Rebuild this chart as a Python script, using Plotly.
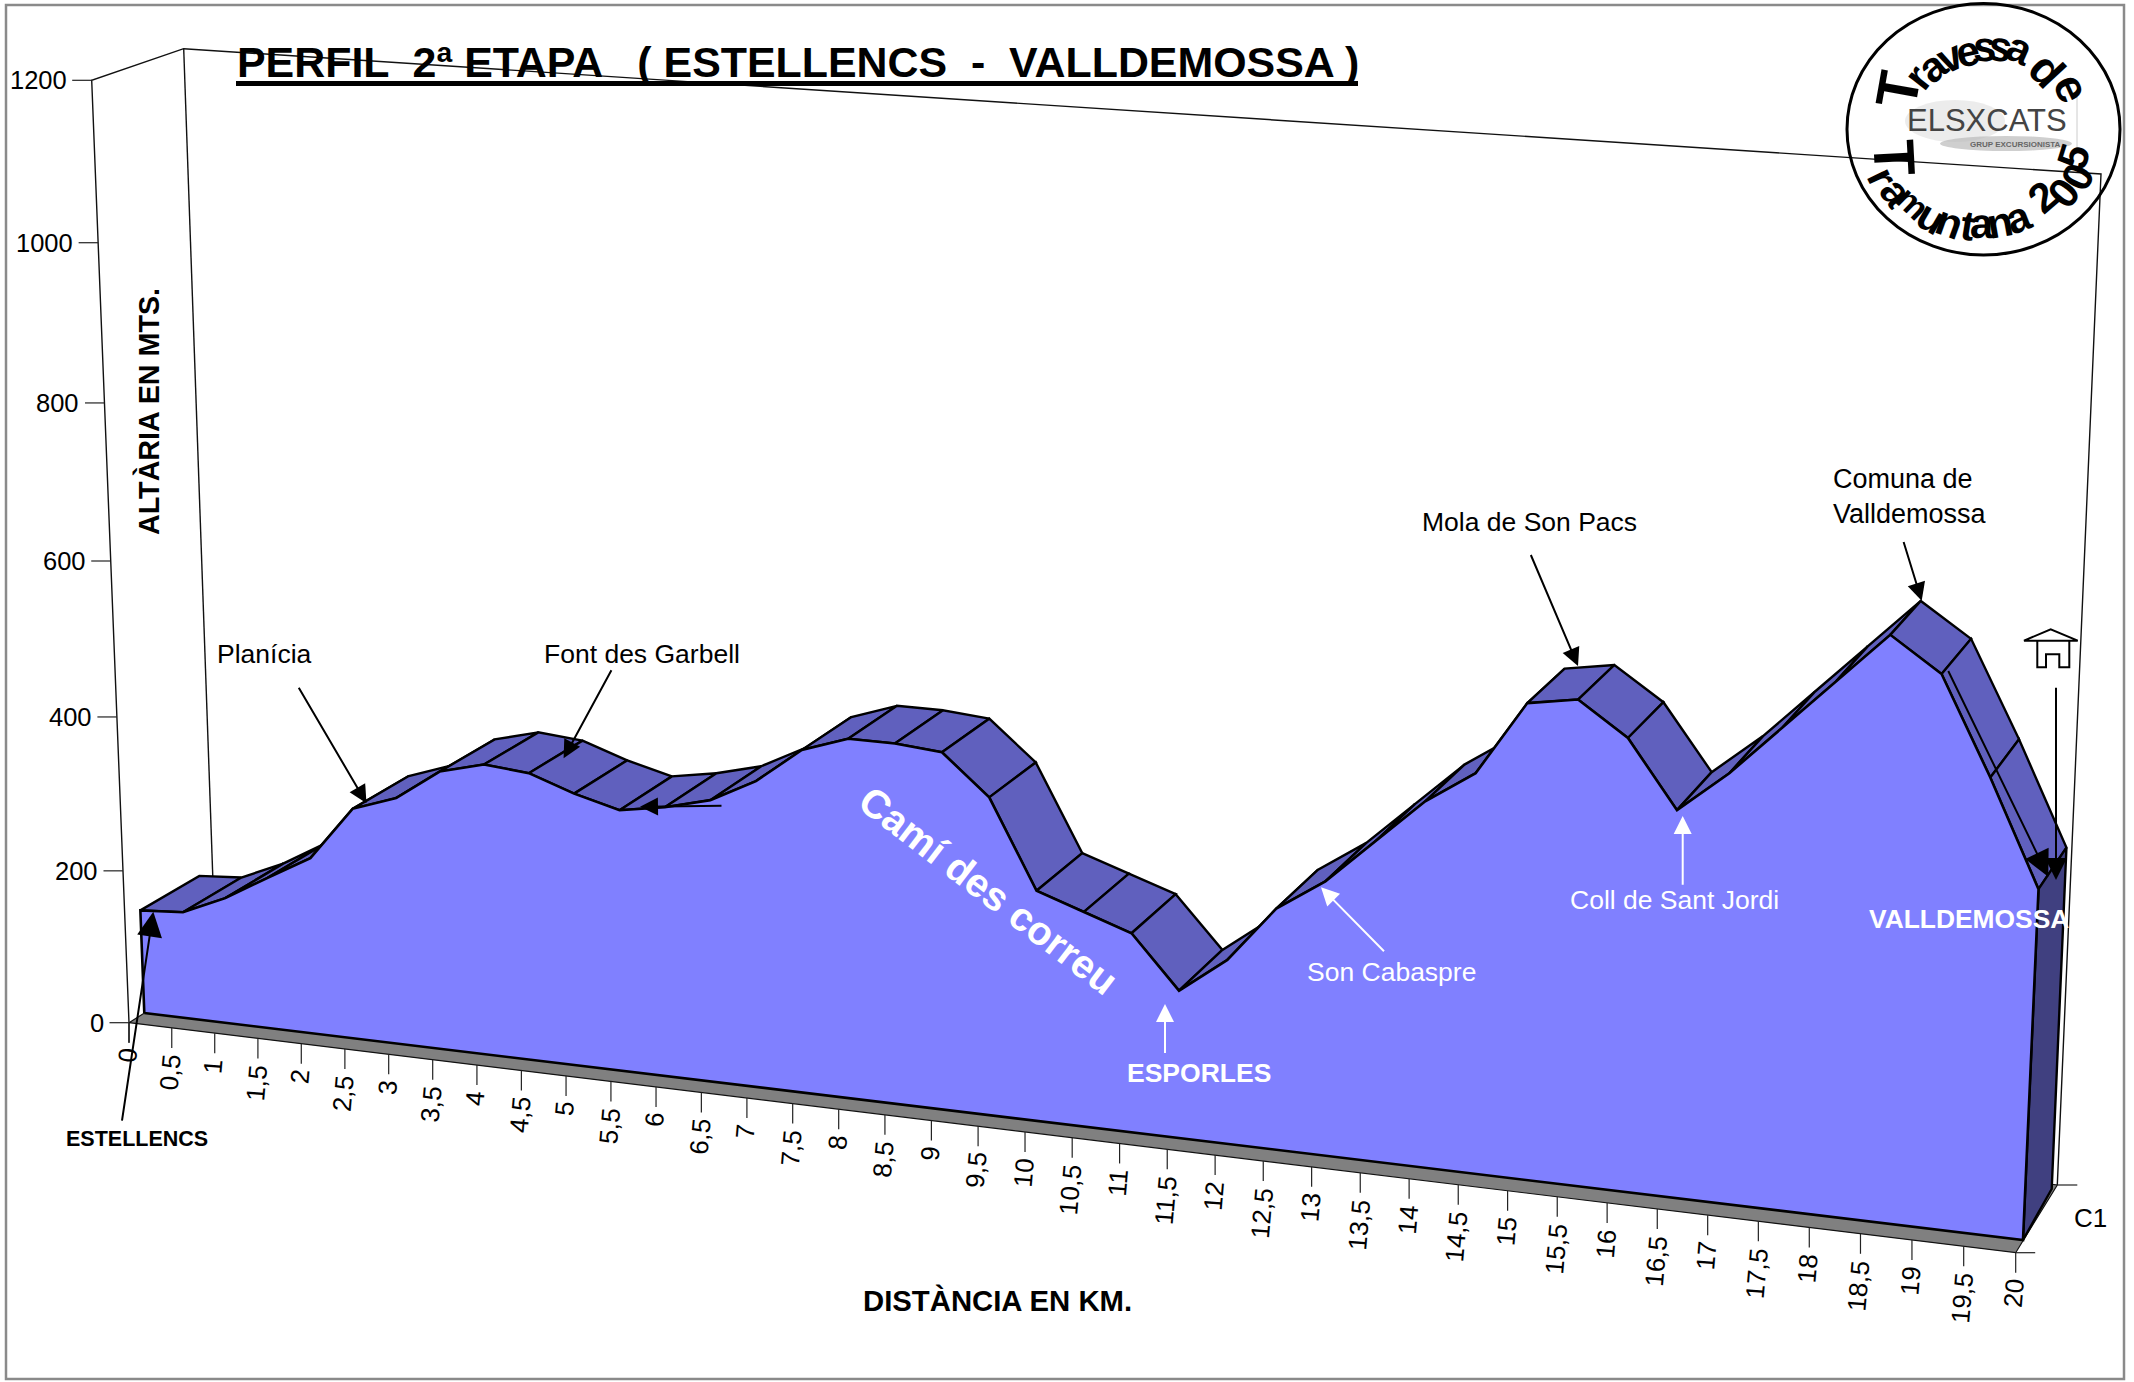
import numpy as np
import plotly.graph_objects as go

# ---------- data ----------
DIST_KM = [0, 0.5, 1, 1.5, 2, 2.5, 3, 3.5, 4, 4.5, 5, 5.5, 6, 6.5, 7, 7.5, 8, 8.5, 9, 9.5,
           10, 10.5, 11, 11.5, 12, 12.5, 13, 13.5, 14, 14.5, 15, 15.5, 16, 16.5, 17, 17.5,
           18, 18.5, 19, 19.5, 20]
ALTITUDE_M = [136, 140, 165, 198, 230, 300, 320, 360, 375, 370, 350, 335, 345, 360, 390, 435,
              455, 455, 450, 400, 290, 270, 250, 185, 230, 300, 340, 395, 450, 490, 580, 590,
              550, 470, 520, 580, 640, 700, 660, 545, 420]
DIST_LABELS = ["0", "0,5", "1", "1,5", "2", "2,5", "3", "3,5", "4", "4,5", "5", "5,5", "6", "6,5",
               "7", "7,5", "8", "8,5", "9", "9,5", "10", "10,5", "11", "11,5", "12", "12,5", "13",
               "13,5", "14", "14,5", "15", "15,5", "16", "16,5", "17", "17,5", "18", "18,5", "19",
               "19,5", "20"]
ALT_TICKS = [0, 200, 400, 600, 800, 1000, 1200]

# ---------- colours / fonts ----------
FRONT = "#8080FF"
TOP = "#6060BE"
END = "#404080"
GREY = "#808080"
FONT = "Liberation Sans"

# ---------- perspective of the 3-D box (page pixels of its corners) ----------
WALL_FRONT = [(129, 1022.7), (2015.7, 1252.7), (2060.5, 216.7), (91.7, 80.3)]
WALL_BACK = [(216, 968), (2057.3, 1185), (2101, 174), (183.7, 48.7)]
SERIES_FRONT = [(144.3, 1013), (2023, 1240), (2068.6, 208), (108.3, 74.6)]
SERIES_BACK = [(203, 976), (2051.7, 1189), (2095, 186), (169.3, 62)]
X_MAX, Y_MAX = 20.0, 1200.0


def fit_plane(corners):
    src = [(0, 0), (X_MAX, 0), (X_MAX, Y_MAX), (0, Y_MAX)]
    A, b = [], []
    for (s, t), (u, v) in zip(src, corners):
        A.append([s, t, 1, 0, 0, 0, -u * s, -u * t])
        A.append([0, 0, 0, s, t, 1, -v * s, -v * t])
        b += [u, v]
    h = np.linalg.solve(np.array(A, float), np.array(b, float))
    return np.append(h, 1).reshape(3, 3)


def proj(H, x, y):
    p = H @ np.array([x, y, 1.0])
    return float(p[0] / p[2]), float(p[1] / p[2])


H_WF, H_WB = fit_plane(WALL_FRONT), fit_plane(WALL_BACK)
H_SF, H_SB = fit_plane(SERIES_FRONT), fit_plane(SERIES_BACK)

fig = go.Figure()


def poly(points, fill=None, color="black", width=1.0):
    xs = [p[0] for p in points]
    ys = [p[1] for p in points]
    if fill:
        xs.append(xs[0])
        ys.append(ys[0])
    fig.add_trace(go.Scatter(x=xs, y=ys, mode="lines", hoverinfo="skip", showlegend=False,
                             fill="toself" if fill else None, fillcolor=fill,
                             line=dict(color=color, width=width)))


# walls
fl, fr, bl, br = proj(H_WF, 0, 0), proj(H_WF, 20, 0), proj(H_WB, 0, 0), proj(H_WB, 20, 0)
ftl, btl, btr = proj(H_WF, 0, 1200), proj(H_WB, 0, 1200), proj(H_WB, 20, 1200)
poly([(fl[0], fl[1] + 20), fl, ftl, btl, btr, br], color="#111111", width=1.4)
poly([btl, bl], color="#111111", width=1.4)
poly([fl, fr, br, bl], fill=GREY, color="#111111", width=1.2)

# axis ticks
for t in ALT_TICKS:
    px, py = proj(H_WF, 0, t)
    poly([(px - 19.5, py), (px, py)], color="#222222", width=1.2)
for d in DIST_KM:
    px, py = proj(H_WF, d, 0)
    poly([(px, py), (px, py + 20)], color="#222222", width=1.2)
poly([fr, (fr[0] + 19.5, fr[1])], color="#222222", width=1.2)
poly([br, (br[0] + 20, br[1])], color="#222222", width=1.2)

# upper surface of the profile, one strip per segment
front_pts = [proj(H_SF, d, a) for d, a in zip(DIST_KM, ALTITUDE_M)]
back_pts = [proj(H_SB, d, a) for d, a in zip(DIST_KM, ALTITUDE_M)]
for i in range(len(DIST_KM) - 1):
    poly([front_pts[i], front_pts[i + 1], back_pts[i + 1], back_pts[i]], fill=TOP, width=2.4)

# end face and front face
sf0, sf1 = proj(H_SF, 0, 0), proj(H_SF, 20, 0)
sb1 = proj(H_SB, 20, 0)
poly([front_pts[-1], sf1, sb1, back_pts[-1]], fill=END, width=2.4)
poly([sf0] + front_pts + [sf1], fill=FRONT, width=2.6)

ann = []


def text(s, x, y, size=26.5, color="black", bold=False, angle=0, xa="center", ya="middle", family=FONT, align="center"):
    ann.append(dict(text=f"<b>{s}</b>" if bold else s, x=x, y=y, xref="x", yref="y", showarrow=False,
                    font=dict(family=family, size=size, color=color), textangle=angle,
                    xanchor=xa, yanchor=ya, align=align, borderpad=0, borderwidth=0))


def arrow(x0, y0, x1, y1, color="black", width=2.0, size=1.8):
    ann.append(dict(text=" ", x=x1, y=y1, ax=x0, ay=y0, xref="x", yref="y", axref="x", ayref="y",
                    showarrow=True, arrowhead=2, arrowsize=size, arrowwidth=width, arrowcolor=color,
                    standoff=0, startstandoff=0, font=dict(size=1)))


# tick labels
for t in ALT_TICKS:
    px, py = proj(H_WF, 0, t)
    text(str(t), px - 25, py, size=25.5, xa="right")
for d, lab in zip(DIST_KM, DIST_LABELS):
    px, py = proj(H_WF, d, 0)
    text(lab, px - 1.5, py + 25, size=26, angle=-85, ya="top")

# titles
text("PERFIL  2ª ETAPA   ( ESTELLENCS  -  VALLDEMOSSA )", 237, 62, size=42.9, bold=True, xa="left")
text("ALTÀRIA EN MTS.", 148, 412, size=28.7, bold=True, angle=-90)
text("DISTÀNCIA EN KM.", 997, 1300, size=29.3, bold=True)
text("C1", 2090, 1218, size=26)

# callouts
text("Planícia", 264.5, 654)
text("Font des Garbell", 642, 654)
text("Mola de Son Pacs", 1529.5, 522)
text("Comuna de<br>Valldemossa", 1833, 496, size=27, xa="left", align="left")
text("Son Cabaspre", 1391, 972, color="white")
text("Coll de Sant Jordi", 1674, 900, color="white")
text("ESPORLES", 1199, 1073, size=26.5, bold=True, color="white")
text("VALLDEMOSSA", 1969, 919, size=26.4, bold=True, color="white")
text("ESTELLENCS", 136.5, 1139, size=21.5, bold=True)
text("Camí des correu", 988, 890, size=40, bold=True, color="white", angle=37.5)

arrow(121.7, 1122.7, 153.3, 911.7, size=2.5)
arrow(297.6, 685.7, 366.5, 803.3)
arrow(612.5, 668.3, 563.6, 758.3)
arrow(723, 805.7, 640, 806.7)
arrow(1530, 553, 1578, 666)
arrow(1903, 540, 1921.7, 600.7)
arrow(2056, 685.7, 2056, 880, size=2.2)
arrow(1947.3, 669, 2048.3, 876.7, size=2.6)
arrow(1682.7, 886.7, 1682.7, 816, color="white")
arrow(1385.5, 952.7, 1321, 887.3, color="white")
arrow(1165, 1055, 1165, 1004, color="white")

# stamp lettering: (char, page x, page y, size)
CX, CY = 1983.5, 129
TOP_LETTERS = [("r", 1917, 77, 42), ("a", 1932, 66, 42), ("v", 1950, 56, 42),
               ("e", 1967, 51, 42), ("s", 1984, 46, 42), ("s", 2000, 46, 42), ("a", 2020, 48, 42),
               ("d", 2047, 70, 46), ("e", 2072, 88, 46)]
BOTTOM_LETTERS = [("r", 1883, 177, 42), ("a", 1897, 192, 42), ("m", 1913, 203, 34),
                  ("u", 1932, 217, 42), ("n", 1950, 222, 42), ("t", 1968, 225, 42), ("a", 1982, 223, 42),
                  ("n", 2000, 222, 42), ("a", 2018, 217, 42), ("2", 2042, 197, 42), ("0", 2063, 193, 42),
                  ("0", 2077, 177, 42), ("5", 2073, 157, 42)]
text("T", 1897, 90, size=58, bold=True, angle=-80)
text("T", 1895, 157, size=58, bold=True, angle=87)
for ch, x, y, s in TOP_LETTERS:
    text(ch, x, y, size=s, bold=True, angle=float(np.degrees(np.arctan2(x - CX, CY - y))))
for ch, x, y, s in BOTTOM_LETTERS:
    text(ch, x, y, size=s, bold=True, angle=float(np.degrees(np.arctan2(CX - x, y - CY))))
text("ELSXCATS", 1987, 120, size=31, color="#444444")
text("GRUP EXCURSIONISTA", 2015, 144, size=8, bold=True, color="#666666")

shapes = [
    dict(type="rect", x0=6, y0=5, x1=2124, y1=1379, line=dict(color="#8a8a8a", width=2.5), layer="above"),
    dict(type="line", x0=236, x1=1358, y0=83.5, y1=83.5, line=dict(color="black", width=5), layer="above"),
    dict(type="circle", x0=1847, x1=2120, y0=3.5, y1=255, line=dict(color="black", width=3), layer="above"),
    dict(type="circle", x0=1905, x1=2005, y0=100, y1=142, fillcolor="#c8c8c8", opacity=0.35, line=dict(width=0), layer="below"),
    dict(type="circle", x0=1940, x1=2072, y0=136, y1=151, fillcolor="#bbbbbb", opacity=0.7, line=dict(width=0), layer="below"),
    dict(type="line", x0=2077, x1=2077, y0=97, y1=148, line=dict(color="#cccccc", width=1), layer="below"),
    # house
    dict(type="path", path="M2024,640.7 L2050.7,629.3 L2077.7,640.7 Z", line=dict(color="black", width=2), fillcolor="white", layer="above"),
    dict(type="path", path="M2037.3,640.7 L2037.3,667.3 L2046,667.3 L2046,654.3 L2059.3,654.3 L2059.3,667.3 L2069.3,667.3 L2069.3,640.7",
         line=dict(color="black", width=2), layer="above"),
]

fig.update_layout(
    width=2134, height=1382, margin=dict(l=0, r=0, t=0, b=0), showlegend=False,
    paper_bgcolor="white", plot_bgcolor="white", font=dict(family=FONT, color="black"),
    xaxis=dict(range=[0, 2134], visible=False, fixedrange=True),
    yaxis=dict(range=[1382, 0], visible=False, fixedrange=True),
    annotations=ann, shapes=shapes,
)
fig.write_html("out.html", config=dict(displayModeBar=False),
               post_script="document.body.style.margin='0';document.documentElement.style.overflow='hidden';")
